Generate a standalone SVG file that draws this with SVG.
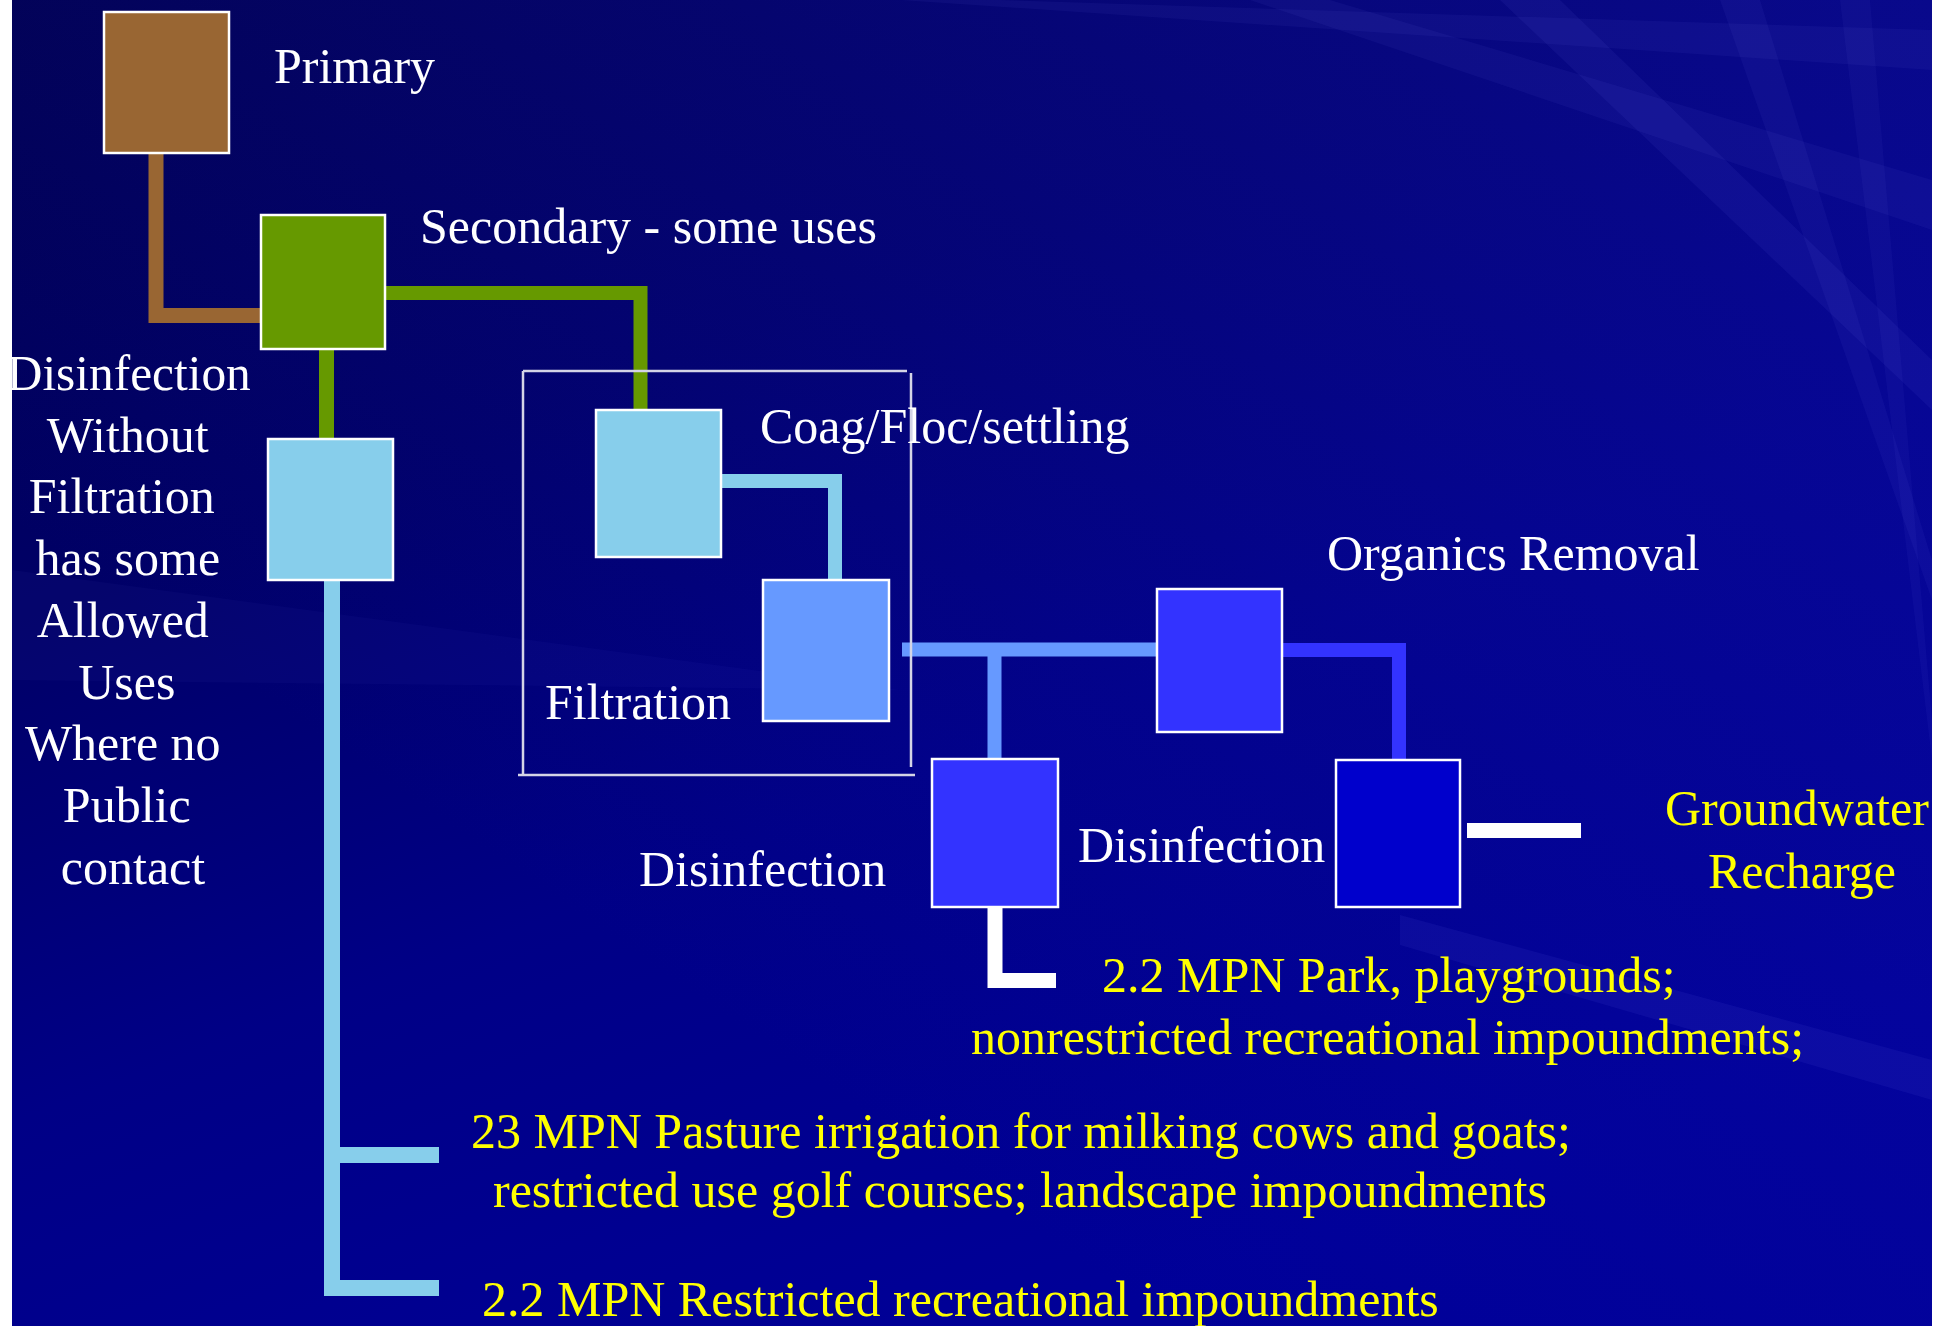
<svg xmlns="http://www.w3.org/2000/svg" width="1950" height="1326" viewBox="0 0 1950 1326">
  <defs>
    <linearGradient id="bg" x1="0" y1="0" x2="0.55" y2="1">
      <stop offset="0" stop-color="#00004C"/>
      <stop offset="0.35" stop-color="#000066"/>
      <stop offset="0.65" stop-color="#000086"/>
      <stop offset="1" stop-color="#000098"/>
    </linearGradient>
    <linearGradient id="glow" x1="1" y1="0" x2="0.3" y2="0.7">
      <stop offset="0" stop-color="#1414B0" stop-opacity="0.45"/>
      <stop offset="1" stop-color="#1414B0" stop-opacity="0"/>
    </linearGradient>
    <style>
      .node { stroke: #ffffff; stroke-width: 2.5; }
      .lbl { font-family: "Liberation Serif", "Times New Roman", serif; font-size: 50px; fill: #ffffff; }
      .yel { font-family: "Liberation Serif", "Times New Roman", serif; font-size: 50px; fill: #ffff00; }
      .conn { fill: none; stroke-linecap: butt; stroke-linejoin: miter; }
      .frame { fill: none; stroke: #d4d4e6; stroke-width: 2.5; }
      .streak { fill: #8080ff; }
    </style>
  </defs>

  <!-- background -->
  <rect x="0" y="0" width="1950" height="1326" fill="#ffffff"/>
  <rect x="12" y="0" width="1920" height="1326" fill="url(#bg)"/>
  <g id="background-streaks">
    <rect x="12" y="0" width="1920" height="1326" fill="url(#glow)"/>
    <polygon class="streak" fill-opacity="0.06" points="1932,30 1932,70 900,0 1000,0"/>
    <polygon class="streak" fill-opacity="0.06" points="1932,180 1932,230 1250,0 1330,0"/>
    <polygon class="streak" fill-opacity="0.07" points="1932,360 1932,410 1500,0 1560,0"/>
    <polygon class="streak" fill-opacity="0.06" points="1932,560 1932,600 1720,0 1760,0"/>
    <polygon class="streak" fill-opacity="0.05" points="1932,720 1932,760 1840,0 1870,0"/>
    <polygon class="streak" fill-opacity="0.08" points="1400,915 1932,1060 1932,1100 1400,945"/>
    <polygon class="streak" fill-opacity="0.04" points="12,570 900,690 12,680"/>
  </g>

  <!-- connectors -->
  <g id="connectors">
    <path class="conn" d="M156,153 V315.5 H261" stroke="#996633" stroke-width="15"/>
    <path class="conn" d="M385,293 H640.5 V410" stroke="#669900" stroke-width="14"/>
    <path class="conn" d="M326.5,349 V439" stroke="#669900" stroke-width="15"/>
    <path class="conn" d="M332,581 V1288 H439" stroke="#87CEEB" stroke-width="16"/>
    <path class="conn" d="M332,1155 H439" stroke="#87CEEB" stroke-width="16"/>
    <path class="conn" d="M721,481 H835 V580" stroke="#87CEEB" stroke-width="14"/>
    <path class="conn" d="M902,649.5 H1157" stroke="#6699FF" stroke-width="14"/>
    <path class="conn" d="M994.5,649 V759" stroke="#6699FF" stroke-width="14"/>
    <path class="conn" d="M1282,650 H1399 V760" stroke="#3333FF" stroke-width="14"/>
    <path class="conn" d="M995,907 V980.5 H1056" stroke="#ffffff" stroke-width="15"/>
    <path class="conn" d="M1467,830.5 H1581" stroke="#ffffff" stroke-width="15"/>
  </g>

  <!-- filtration frame -->
  <g id="filtration-frame">
    <path class="frame" d="M523,371 H907 M911,373 V767 M518,775 H915 M523,371 V775"/>
  </g>

  <g id="primary">
    <rect class="node" x="104" y="12" width="125" height="141" fill="#996633"/>
    <text class="lbl" x="274" y="83">Primary</text>
  </g>

  <g id="secondary">
    <rect class="node" x="261" y="215" width="124" height="134" fill="#669900"/>
    <text class="lbl" x="420" y="243">Secondary - some uses</text>
  </g>

  <g id="disinfection-without-filtration">
    <rect class="node" x="268" y="439" width="125" height="141" fill="#87CEEB"/>
    <text class="lbl" text-anchor="middle">
      <tspan x="135" y="390" textLength="244" lengthAdjust="spacingAndGlyphs">Disinfection</tspan>
      <tspan x="134" y="451.7">Without</tspan>
      <tspan x="128" y="513.4">Filtration</tspan>
      <tspan x="134" y="575.1">has some</tspan>
      <tspan x="129" y="636.8">Allowed</tspan>
      <tspan x="133" y="698.5">Uses</tspan>
      <tspan x="129" y="760.2">Where no</tspan>
      <tspan x="133" y="821.9">Public</tspan>
      <tspan x="133" y="883.6">contact</tspan>
    </text>
  </g>

  <g id="coag-floc-settling">
    <rect class="node" x="596" y="410" width="125" height="147" fill="#87CEEB"/>
    <text class="lbl" x="760" y="443">Coag/Floc/settling</text>
  </g>

  <g id="filtration">
    <rect class="node" x="763" y="580" width="126" height="141" fill="#6699FF"/>
    <text class="lbl" x="545" y="719">Filtration</text>
  </g>

  <g id="organics-removal">
    <rect class="node" x="1157" y="589" width="125" height="143" fill="#3333FF"/>
    <text class="lbl" x="1327" y="570">Organics Removal</text>
  </g>

  <g id="disinfection-1">
    <rect class="node" x="932" y="759" width="126" height="148" fill="#3333FF"/>
    <text class="lbl" x="639" y="886">Disinfection</text>
  </g>

  <g id="disinfection-2">
    <rect class="node" x="1336" y="760" width="124" height="147" fill="#0000CC"/>
    <text class="lbl" x="1078" y="862">Disinfection</text>
  </g>

  <g id="groundwater-recharge">
    <text class="yel" x="1665" y="825">Groundwater</text>
    <text class="yel" x="1708" y="888">Recharge</text>
  </g>

  <g id="park-uses">
    <text class="yel" x="1102" y="992">2.2 MPN Park, playgrounds;</text>
    <text class="yel" x="971" y="1054">nonrestricted recreational impoundments;</text>
  </g>

  <g id="pasture-uses">
    <text class="yel" x="471" y="1148">23 MPN Pasture irrigation for milking cows and goats;</text>
    <text class="yel" x="493" y="1207">restricted use golf courses; landscape impoundments</text>
  </g>

  <g id="restricted-uses">
    <text class="yel" x="482" y="1316">2.2 MPN Restricted recreational impoundments</text>
  </g>
</svg>
